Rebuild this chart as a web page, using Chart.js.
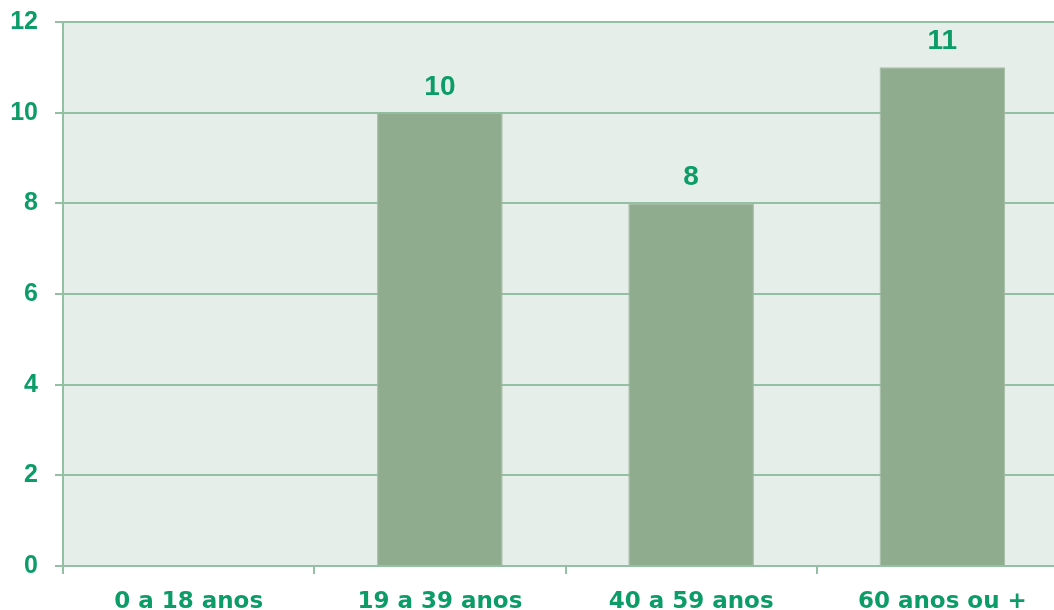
<!DOCTYPE html>
<html>
<head>
<meta charset="utf-8">
<script src="https://cdn.jsdelivr.net/npm/chart.js@4"></script>
<style>
  html, body { margin: 0; padding: 0; background: #fff; overflow: hidden; }
  #wrap { width: 1054px; height: 610px; overflow: hidden; }
</style>
</head>
<body>
<div id="wrap"><canvas id="ageChart" width="1068" height="610"></canvas></div>
<script>
// faixas etarias
var categories = ['0 a 18 anos', '19 a 39 anos', '40 a 59 anos', '60 anos ou +'];
var values = [0, 10, 8, 11];
var yTicks = [0, 2, 4, 6, 8, 10, 12];

var textGreen = '#0c9c68';
var gridGreen = '#93bfa2';

// plot background + value labels
var plotBackground = {
	id: 'plotBackground',
	beforeDraw: function(chart) {
		var a = chart.chartArea;
		var c = chart.ctx;
		c.save();
		c.fillStyle = '#e6eee9';
		c.fillRect(a.left, a.top, a.right - a.left, a.bottom - a.top);
		c.restore();
	}
};

var valueLabels = {
	id: 'valueLabels',
	afterDatasetsDraw: function(chart) {
		var c = chart.ctx;
		var meta = chart.getDatasetMeta(0);
		c.save();
		c.font = 'bold 28px "Liberation Sans", Arial, sans-serif';
		c.fillStyle = textGreen;
		c.textAlign = 'center';
		c.textBaseline = 'alphabetic';
		meta.data.forEach(function(bar, i) {
			if (!values[i]) return;
			c.fillText(values[i], bar.x, bar.y - 18);
		});
		c.restore();
	}
};

var ctx = document.getElementById('ageChart').getContext('2d');

var chart = new Chart(ctx, {
	type: 'bar',
	data: {
		labels: categories,
		datasets: [{
			data: values,
			backgroundColor: '#8fac8f',
			borderColor: '#a3bca3',
			borderWidth: 1,
			categoryPercentage: 1,
			barPercentage: 0.5
		}]
	},
	plugins: [plotBackground, valueLabels],
	options: {
		responsive: false,
		animation: false,
		layout: {
			padding: { top: 22, right: 0, bottom: 0, left: 0 }
		},
		plugins: {
			legend: { display: false },
			tooltip: { enabled: false }
		},
		scales: {
			x: {
				offset: true,
				grid: {
					offset: true,
					drawOnChartArea: false,
					drawTicks: true,
					tickLength: 8,
					color: gridGreen,
					lineWidth: 2
				},
				border: { color: gridGreen, width: 2 },
				ticks: {
					color: textGreen,
					padding: 14,
					maxRotation: 0,
					font: { family: '"DejaVu Sans", sans-serif', size: 23, weight: 'bold' }
				},
				afterFit: function(scale) {
					scale.height = 44;
					scale.paddingLeft = 0;
					scale.paddingRight = 0;
				}
			},
			y: {
				min: 0,
				max: 12,
				afterBuildTicks: function(scale) {
					scale.ticks = yTicks.map(function(v) { return { value: v }; });
				},
				grid: {
					color: gridGreen,
					lineWidth: 2,
					tickLength: 8
				},
				border: { color: gridGreen, width: 2 },
				ticks: {
					color: textGreen,
					padding: 17,
					font: { family: '"Liberation Sans", Arial, sans-serif', size: 25, weight: 'bold' }
				},
				afterFit: function(scale) {
					scale.width = 63;
					scale.paddingTop = 0;
					scale.paddingBottom = 0;
				}
			}
		}
	}
});
</script>
</body>
</html>
